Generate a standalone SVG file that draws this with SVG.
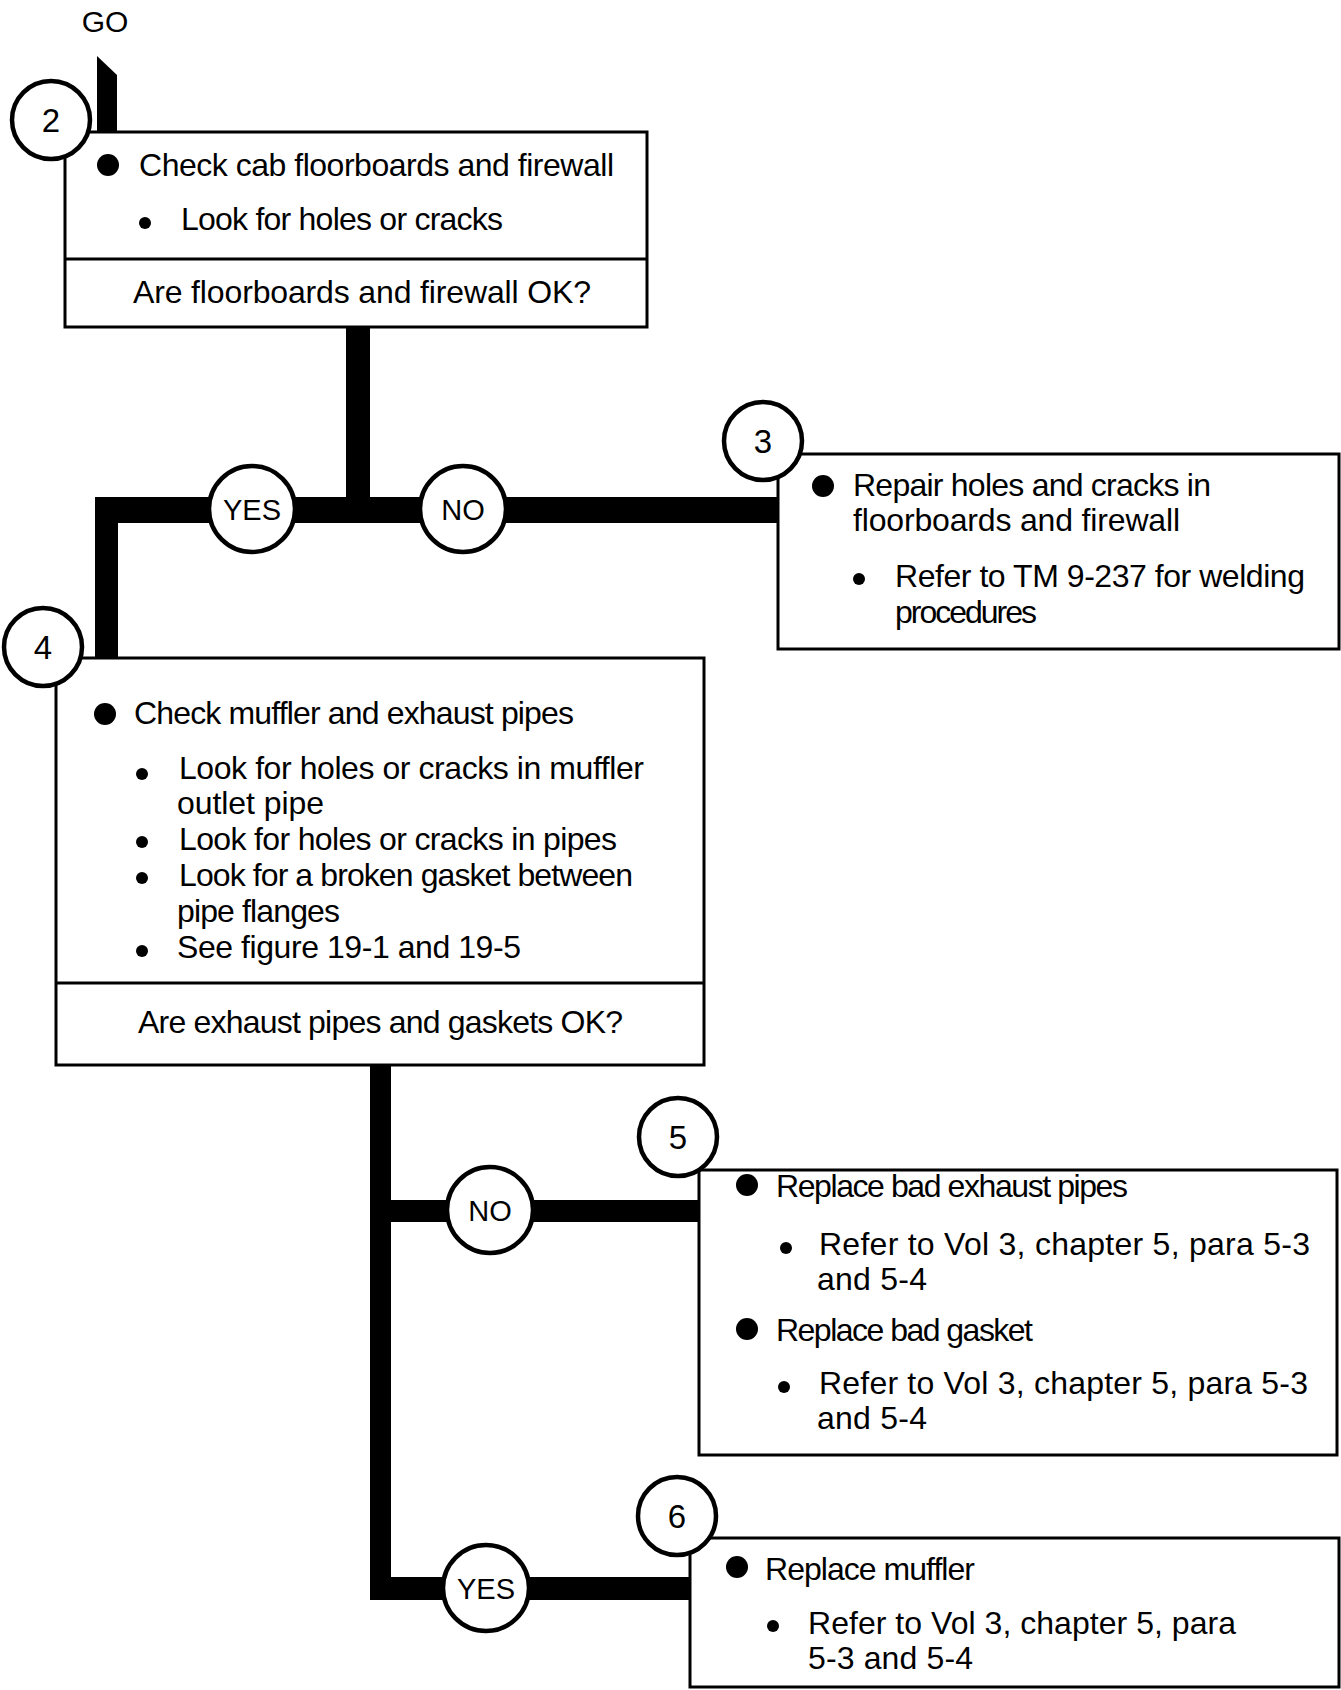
<svg xmlns="http://www.w3.org/2000/svg" width="1341" height="1690" viewBox="0 0 1341 1690">
<style>
text{font-family:"Liberation Sans",Arial,sans-serif;fill:#000}
.t{font-size:32px}
.c{font-size:33px;text-anchor:middle}
.yn{font-size:29px;text-anchor:middle}
.box{fill:#fff;stroke:#000;stroke-width:3}
.div{stroke:#000;stroke-width:3}
.num{fill:#fff;stroke:#000;stroke-width:4.5}
.bar{fill:#000}
</style>
<rect width="1341" height="1690" fill="#fff"/>
<g id="connectors">
<text class="c" x="105" y="32" style="font-size:30px">GO</text>
<polygon class="bar" points="97,56 117,75 117,133 97,133"/>
<rect class="bar" x="346" y="326" width="24" height="197"/>
<rect class="bar" x="95" y="497" width="683" height="26"/>
<rect class="bar" x="95" y="497" width="23" height="162"/>
<rect class="bar" x="370" y="1065" width="21" height="535"/>
<rect class="bar" x="370" y="1200" width="329" height="22"/>
<rect class="bar" x="370" y="1577" width="321" height="23"/>
<g id="yes1"><circle class="num" cx="252" cy="509" r="43"/><text class="yn" x="252" y="520">YES</text></g>
<g id="no1"><circle class="num" cx="463" cy="509" r="43"/><text class="yn" x="463" y="520">NO</text></g>
<g id="no2"><circle class="num" cx="490" cy="1210" r="43"/><text class="yn" x="490" y="1221">NO</text></g>
<g id="yes2"><circle class="num" cx="486" cy="1588" r="43"/><text class="yn" x="486" y="1599">YES</text></g>
</g>
<g id="node2">
<rect class="box" x="65" y="132" width="582" height="195"/>
<line class="div" x1="65" y1="259" x2="647" y2="259"/>
<circle cx="108" cy="165" r="11"/>
<text class="t" x="139" y="176" textLength="475">Check cab floorboards and firewall</text>
<circle cx="145" cy="223" r="6"/>
<text class="t" x="181" y="230" textLength="322">Look for holes or cracks</text>
<text class="t" x="133" y="303" textLength="458">Are floorboards and firewall OK?</text>
<circle class="num" cx="51" cy="120" r="39"/>
<text class="c" x="51" y="132">2</text>
</g>
<g id="node3">
<rect class="box" x="778" y="454" width="561" height="195"/>
<circle cx="823" cy="486" r="11"/>
<text class="t" x="853" y="496" textLength="358">Repair holes and cracks in</text>
<text class="t" x="853" y="531" textLength="327">floorboards and firewall</text>
<circle cx="859" cy="579" r="6"/>
<text class="t" x="895" y="587" textLength="410">Refer to TM 9-237 for welding</text>
<text class="t" x="895" y="623" textLength="142">procedures</text>
<circle class="num" cx="763" cy="441" r="39"/>
<text class="c" x="763" y="453">3</text>
</g>
<g id="node4">
<rect class="box" x="56" y="658" width="648" height="407"/>
<line class="div" x1="56" y1="983" x2="704" y2="983"/>
<circle cx="105" cy="714" r="11"/>
<text class="t" x="134" y="724" textLength="440">Check muffler and exhaust pipes</text>
<circle cx="142" cy="774" r="6"/>
<text class="t" x="179" y="779" textLength="465">Look for holes or cracks in muffler</text>
<text class="t" x="177" y="814" textLength="147">outlet pipe</text>
<circle cx="142" cy="842" r="6"/>
<text class="t" x="179" y="850" textLength="438">Look for holes or cracks in pipes</text>
<circle cx="142" cy="878" r="6"/>
<text class="t" x="179" y="886" textLength="454">Look for a broken gasket between</text>
<text class="t" x="177" y="922" textLength="163">pipe flanges</text>
<circle cx="142" cy="951" r="6"/>
<text class="t" x="177" y="958" textLength="344">See figure 19-1 and 19-5</text>
<text class="t" x="138" y="1033" textLength="485">Are exhaust pipes and gaskets OK?</text>
<circle class="num" cx="43" cy="647" r="39"/>
<text class="c" x="43" y="659">4</text>
</g>
<g id="node5">
<rect class="box" x="699" y="1170" width="638" height="285"/>
<circle cx="747" cy="1185" r="11"/>
<text class="t" x="776" y="1197" textLength="352">Replace bad exhaust pipes</text>
<circle cx="786" cy="1248" r="6"/>
<text class="t" x="819" y="1255" textLength="491">Refer to Vol 3, chapter 5, para 5-3</text>
<text class="t" x="817" y="1290" textLength="110">and 5-4</text>
<circle cx="747" cy="1329" r="11"/>
<text class="t" x="776" y="1341" textLength="257">Replace bad gasket</text>
<circle cx="784" cy="1387" r="6"/>
<text class="t" x="819" y="1394" textLength="489">Refer to Vol 3, chapter 5, para 5-3</text>
<text class="t" x="817" y="1429" textLength="110">and 5-4</text>
<circle class="num" cx="678" cy="1137" r="39"/>
<text class="c" x="678" y="1149">5</text>
</g>
<g id="node6">
<rect class="box" x="690" y="1538" width="649" height="149"/>
<circle cx="737" cy="1567" r="11"/>
<text class="t" x="765" y="1580" textLength="210">Replace muffler</text>
<circle cx="773" cy="1626" r="6"/>
<text class="t" x="808" y="1634" textLength="428">Refer to Vol 3, chapter 5, para</text>
<text class="t" x="808" y="1669" textLength="165">5-3 and 5-4</text>
<circle class="num" cx="677" cy="1516" r="39"/>
<text class="c" x="677" y="1528">6</text>
</g>
</svg>
